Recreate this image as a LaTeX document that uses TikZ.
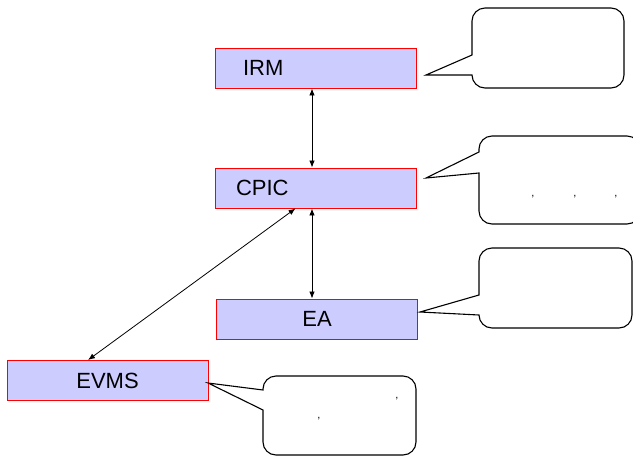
\documentclass[tikz,border=0pt]{standalone}
\usepackage{fontspec}
\setmainfont{Liberation Sans}
\usepackage{tikz}
\usetikzlibrary{arrows.meta}

\definecolor{boxblue}{RGB}{204,204,255}

\begin{document}
\begin{tikzpicture}[x=1pt, y=-1pt,
  unit/.style = {draw = red, fill = boxblue, line width = 0.9pt, minimum width = 201pt, minimum height = 40pt, inner sep = 0pt, font = \fontsize{22}{26}\selectfont},
  leftunit/.style = {unit, text width = 201pt, align = left},
  bubble/.style = {draw, line width = 1.1pt},
  link/.style = {line width = 0.8pt, {Latex[length=7pt, width=5.5pt]}-{Latex[length=7pt, width=5.5pt]}},
  comma/.style = {font = \fontsize{11}{12}\selectfont, inner sep = 0pt}]
\useasboundingbox (0,0) rectangle (633,456);
% the four units
\node[leftunit] (IRM) at (315.5,68) {\hspace*{28pt}IRM};
\node[leftunit] (CPIC) at (315.5,188) {\hspace*{21pt}CPIC};
\node[unit] (EA) at (317,319) {EA};
\node[unit] (EVMS) at (107.5,380.5) {EVMS};
% links
\draw[link] ([xshift=-3.5pt]IRM.south) -- ([xshift=-3.5pt]CPIC.north);
\draw[link] ([xshift=-3.5pt]CPIC.south) -- ([xshift=-5pt]EA.north);
\draw[link] ([xshift=-20pt]CPIC.south) -- ([xshift=-19.5pt]EVMS.north);
% callouts
\draw[bubble] (472,75) -- (426,75) -- (472,55) [rounded corners=13pt] -- (472,8) -- (624,8) -- (624,88) -- (472,88) [sharp corners] -- (472,75) -- cycle;
\draw[bubble] (479,173) -- (426,178) -- (479,152) [rounded corners=13pt] -- (479,136) -- (640,136) -- (640,224) -- (479,224) [sharp corners] -- (479,173) -- cycle;
\draw[bubble] (479,315) -- (420,312) -- (479,295) [rounded corners=13pt] -- (479,248) -- (632,248) -- (632,328) -- (479,328) [sharp corners] -- (479,315) -- cycle;
\draw[bubble] (263,390) -- (208,383) -- (263,410) [rounded corners=13pt] -- (263,455) -- (416,455) -- (416,376) -- (263,376) [sharp corners] -- (263,390) -- cycle;
% stray marks
\node[comma] (c1) at (533,197) {,};
\node[comma] (c2) at (575,197) {,};
\node[comma] (c3) at (616,197) {,};
\node[comma] (c4) at (397,399) {,};
\node[comma] (c5) at (319,419) {,};
\end{tikzpicture}
\end{document}
